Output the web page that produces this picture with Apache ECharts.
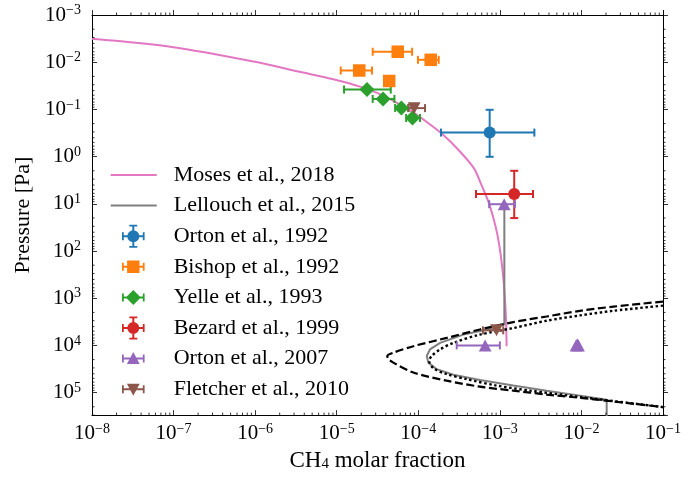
<!DOCTYPE html>
<html>
<head>
<meta charset="utf-8">
<script src="https://cdn.jsdelivr.net/npm/echarts@6/dist/echarts.min.js"></script>
<style>
html, body { margin: 0; padding: 0; background: #fff; }
#chart { width: 697px; height: 477px; }
</style>
</head>
<body>
<div id="chart"></div>
<script>
// model profiles (CH4 molar fraction vs pressure in Pa)
var mosesX = [1e-8, 1e-7, 1e-6, 3.5e-6, 9.1e-6, 1.93e-5, 3.7e-5, 7.9e-5, 1.27e-4, 2.03e-4, 3.24e-4, 4.8e-4, 5.7e-4, 7.2e-4, 8.3e-4, 9.3e-4, 1.02e-3, 1.1e-3, 1.156e-3, 1.19e-3, 1.21e-3];
var mosesP = [3.2e-3, 4.8e-3, 9.8e-3, 1.6e-2, 2.3e-2, 3.3e-2, 5.1e-2, 0.105, 0.185, 0.35, 0.78, 1.76, 3.35, 8.8, 19.6, 44, 115, 355, 1090, 2860, 10400];

var lellX = [1.135e-3, 1.135e-3, 7.6e-4, 3.56e-4, 1.85e-4, 1.39e-4, 1.27e-4, 1.33e-4, 1.68e-4, 2.69e-4, 5.7e-4, 1.46e-3, 3.75e-3, 9.6e-3, 2.04e-2, 2.04e-2];
var lellP = [10, 3640, 4500, 5900, 8850, 1.22e4, 1.68e4, 2.32e4, 3.19e4, 4.2e4, 5.4e4, 7.1e4, 9.1e4, 1.16e5, 1.42e5, 1e6];

// saturation curves (no legend entry)
var satDashX = [0.1, 2.46e-2, 9.6e-3, 3.75e-3, 1.46e-3, 5.7e-4, 2.23e-4, 8.7e-5, 4.94e-5, 4.17e-5, 4.3e-5, 4.94e-5, 8.7e-5, 2.23e-4, 5.7e-4, 1.46e-3, 3.75e-3, 9.6e-3, 2.46e-2, 0.1];
var satDashP = [1180, 1510, 1850, 2440, 3210, 4600, 6950, 1.04e4, 1.43e4, 1.68e4, 1.95e4, 2.32e4, 3.76e4, 5.6e4, 7.5e4, 9.1e4, 1.1e5, 1.29e5, 1.54e5, 2.03e5];
var satDotX = [0.1, 2.46e-2, 9.6e-3, 3.75e-3, 1.46e-3, 5.7e-4, 2.69e-4, 1.85e-4, 1.46e-4, 1.36e-4, 1.53e-4, 2.23e-4, 3.93e-4, 9.1e-4, 2.35e-3, 9.6e-3, 0.1];
var satDotP = [1440, 1850, 2320, 3000, 4290, 5900, 8850, 1.22e4, 1.68e4, 2.14e4, 3.04e4, 4.06e4, 5.2e4, 7.1e4, 9.1e4, 1.24e5, 2.03e5];

// observations: value, pressure, x error range, pressure error range
var orton92X = [7.5e-4];
var orton92P = [0.31];
var orton92Xerr = [[1.9e-4, 2.65e-3]];
var orton92Perr = [[0.102, 1.01]];

var bishopX = [5.6e-5, 1.42e-4, 1.89e-5, 4.4e-5];
var bishopP = [6.0e-3, 8.9e-3, 1.5e-2, 2.5e-2];
var bishopXerr = [[2.76e-5, 8.4e-5], [9.9e-5, 1.78e-4], [1.12e-5, 2.71e-5], null];

var yelleX = [2.35e-5, 3.7e-5, 6.2e-5, 8.5e-5];
var yelleP = [3.8e-2, 6.0e-2, 9.3e-2, 0.152];
var yelleXerr = [[1.23e-5, 4.6e-5], [2.76e-5, 5.1e-5], [5.2e-5, 7.55e-5], [7.1e-5, 1.05e-4]];

var bezardX = [1.5e-3];
var bezardP = [6.2];
var bezardXerr = [[5.1e-4, 2.55e-3]];
var bezardPerr = [[2.0, 20.1]];

var orton07X = [1.13e-3, 6.6e-4, 8.6e-3, 8.9e-3, 9.2e-3];
var orton07P = [10.2, 1e4, 1e4, 9.5e3, 1e4];
var orton07Xerr = [[7.4e-4, 1.53e-3], [2.96e-4, 1.0e-3], null, null, null];

var fletcherX = [8.9e-5, 9.1e-4];
var fletcherP = [0.094, 4.8e3];
var fletcherXerr = [[7.55e-5, 1.21e-4], [6.2e-4, 1.1e-3]];

// axis tick exponents
var xExp = [-8, -7, -6, -5, -4, -3, -2, -1];
var pExp = [-3, -2, -1, 0, 1, 2, 3, 4, 5];

var FONT = 'Liberation Serif';
var X_MIN = 1e-8, X_MAX = 1e-1, P_MIN = 1e-3, P_MAX = 3e5;

var chart = echarts.init(document.getElementById('chart'));

function decLabel(v) {
  var e = Math.round(Math.log10(v));
  return '{b|10}{s|' + (e < 0 ? '\u2212' + (-e) : e) + '}';
}
var labelRich = {
  b: { fontSize: 21, lineHeight: 23, fontFamily: FONT, color: '#000' },
  s: { fontSize: 14, lineHeight: 14, fontFamily: FONT, color: '#000', verticalAlign: 'top' }
};

// legend icons, all in a 58x23 box
var CX = 22.6, CY = 11.5;
function rect(x, y, w, h) {
  return 'M' + x + ',' + y + 'L' + (x + w) + ',' + y + 'L' + (x + w) + ',' + (y + h) + 'L' + x + ',' + (y + h) + 'Z';
}
var frame = 'M0,0L0.01,0Z M58,23L57.99,23Z ';
var xbar = rect(CX - 11.3, CY - 1, 22.6, 2) + rect(CX - 11.3, CY - 4, 1.8, 8) + rect(CX + 9.5, CY - 4, 1.8, 8);
var ybar = rect(CX - 1, 0, 2, 23) + rect(CX - 4, 0, 8, 1.8) + rect(CX - 4, 21.2, 8, 1.8);
function circ(r) {
  return 'M' + (CX - r) + ',' + CY + 'A' + r + ',' + r + ',0,1,1,' + (CX + r) + ',' + CY +
    'A' + r + ',' + r + ',0,1,1,' + (CX - r) + ',' + CY + 'Z';
}
var sq = rect(CX - 6.2, CY - 6.2, 12.4, 12.4);
var dia = 'M' + CX + ',' + (CY - 7.5) + 'L' + (CX + 7.5) + ',' + CY + 'L' + CX + ',' + (CY + 7.5) + 'L' + (CX - 7.5) + ',' + CY + 'Z';
var triUp = 'M' + CX + ',' + (CY - 6.5) + 'L' + (CX + 6.4) + ',' + (CY + 5.5) + 'L' + (CX - 6.4) + ',' + (CY + 5.5) + 'Z';
var triDn = 'M' + (CX - 6.4) + ',' + (CY - 5.5) + 'L' + (CX + 6.4) + ',' + (CY - 5.5) + 'L' + CX + ',' + (CY + 6.5) + 'Z';
var lineIcon = 'path://' + frame + rect(0, 10.5, 46, 2);

function lineSeries(name, xs, ps, color, dash, width, smooth) {
  return {
    name: name, type: 'line', xAxisIndex: 0, yAxisIndex: 0,
    data: xs.map(function (x, i) { return [x, ps[i]]; }),
    symbol: 'none', showSymbol: false, smooth: smooth,
    lineStyle: { color: color, width: width, type: dash },
    itemStyle: { color: color },
    silent: true, z: 2
  };
}

function renderErr(params, api) {
  var x = api.value(0), p = api.value(1);
  var xlo = api.value(2), xhi = api.value(3), plo = api.value(4), phi = api.value(5);
  var style = { stroke: api.visual('color'), lineWidth: 2 };
  var cap = 4;
  var kids = [];
  function seg(x1, y1, x2, y2) {
    kids.push({ type: 'line', shape: { x1: x1, y1: y1, x2: x2, y2: y2 }, style: style });
  }
  if (isFinite(xlo) && xlo > 0) {
    var a = api.coord([xlo, p]), b = api.coord([xhi, p]);
    seg(a[0], a[1], b[0], b[1]);
    seg(a[0], a[1] - cap, a[0], a[1] + cap);
    seg(b[0], b[1] - cap, b[0], b[1] + cap);
  }
  if (isFinite(plo) && plo > 0) {
    var c = api.coord([x, plo]), d = api.coord([x, phi]);
    seg(c[0], c[1], d[0], d[1]);
    seg(c[0] - cap, c[1], c[0] + cap, c[1]);
    seg(d[0] - cap, d[1], d[0] + cap, d[1]);
  }
  return { type: 'group', children: kids };
}

function obsSeries(name, color, symbol, size, rotate, xs, ps, xerr, perr) {
  var errData = xs.map(function (x, i) {
    var xe = xerr && xerr[i], pe = perr && perr[i];
    return [x, ps[i], xe ? xe[0] : NaN, xe ? xe[1] : NaN, pe ? pe[0] : NaN, pe ? pe[1] : NaN];
  });
  return [{
    name: name, type: 'custom', xAxisIndex: 0, yAxisIndex: 0,
    renderItem: renderErr, data: errData, encode: { x: 0, y: 1 },
    itemStyle: { color: color }, silent: true, z: 4
  }, {
    name: name, type: 'scatter', xAxisIndex: 0, yAxisIndex: 0,
    data: xs.map(function (x, i) { return [x, ps[i]]; }),
    symbol: symbol, symbolSize: size, symbolRotate: rotate,
    itemStyle: { color: color, opacity: 1 }, silent: true, z: 5
  }];
}

// minor ticks 2..9 per decade
var minorData = [];
xExp.slice(0, -1).forEach(function (e) {
  for (var m = 2; m <= 9; m++) minorData.push([m * Math.pow(10, e), 1, 0]);
});
pExp.forEach(function (e) {
  for (var m = 2; m <= 9; m++) {
    var v = m * Math.pow(10, e);
    if (v <= P_MAX * 1.001) minorData.push([1e-4, v, 1]);
  }
});
function renderMinor(params, api) {
  var cs = params.coordSys;
  var st = { stroke: '#000', lineWidth: 0.8 };
  var L = 2.5;
  var pt = api.coord([api.value(0), api.value(1)]);
  if (api.value(2) === 0) {
    var px = pt[0], yb = cs.y + cs.height, yt = cs.y;
    return { type: 'group', children: [
      { type: 'line', shape: { x1: px, y1: yb, x2: px, y2: yb - L }, style: st },
      { type: 'line', shape: { x1: px, y1: yt, x2: px, y2: yt - L }, style: st }
    ] };
  }
  var py = pt[1], xl = cs.x, xr = cs.x + cs.width;
  return { type: 'group', children: [
    { type: 'line', shape: { x1: xl, y1: py, x2: xl + L, y2: py }, style: st },
    { type: 'line', shape: { x1: xr, y1: py, x2: xr + L, y2: py }, style: st }
  ] };
}

var series = [
  lineSeries('Moses et al., 2018', mosesX, mosesP, '#e377c2', 'solid', 2, 0.3),
  lineSeries('Lellouch et al., 2015', lellX, lellP, '#7f7f7f', 'solid', 2, false),
  lineSeries('sat dashed', satDashX, satDashP, '#000', [8, 3.5], 2.2, 0.3),
  lineSeries('sat dotted', satDotX, satDotP, '#000', [2.5, 2.6], 2.4, 0.3)
];
series = series.concat(
  obsSeries('Orton et al., 1992', '#1f77b4', 'circle', 12, 0, orton92X, orton92P, orton92Xerr, orton92Perr),
  obsSeries('Bishop et al., 1992', '#ff7f0e', 'rect', 12.5, 0, bishopX, bishopP, bishopXerr, null),
  obsSeries('Yelle et al., 1993', '#2ca02c', 'diamond', 15, 0, yelleX, yelleP, yelleXerr, null),
  obsSeries('Bezard et al., 1999', '#d62728', 'circle', 12, 0, bezardX, bezardP, bezardXerr, bezardPerr),
  obsSeries('Orton et al., 2007', '#9467bd', 'triangle', [12.8, 12], 0, orton07X, orton07P, orton07Xerr, null),
  obsSeries('Fletcher et al., 2010', '#8c564b', 'triangle', [12.8, 12], 180, fletcherX, fletcherP, fletcherXerr, null)
);
series.push({
  name: 'minor ticks', type: 'custom', xAxisIndex: 0, yAxisIndex: 0,
  renderItem: renderMinor, data: minorData, encode: { x: 0, y: 1 },
  silent: true, z: 10
});

var axisLine = { show: true, lineStyle: { color: '#000', width: 1 } };
var tickStyle = { color: '#000', width: 0.8 };

var option = {
  animation: false,
  backgroundColor: '#fff',
  grid: { left: 92, right: 34, top: 15, bottom: 57, containLabel: false },
  legend: {
    orient: 'vertical', left: 110.7, top: 163.5, padding: 0,
    itemWidth: 58, itemHeight: 23, itemGap: 7.6,
    selectedMode: false,
    itemStyle: { borderWidth: 0 },
    textStyle: { fontFamily: FONT, fontSize: 22, lineHeight: 23, color: '#000' },
    data: [
      { name: 'Moses et al., 2018', icon: lineIcon },
      { name: 'Lellouch et al., 2015', icon: lineIcon },
      { name: 'Orton et al., 1992', icon: 'path://' + frame + xbar + ybar + circ(6) },
      { name: 'Bishop et al., 1992', icon: 'path://' + frame + xbar + sq },
      { name: 'Yelle et al., 1993', icon: 'path://' + frame + xbar + dia },
      { name: 'Bezard et al., 1999', icon: 'path://' + frame + xbar + ybar + circ(6) },
      { name: 'Orton et al., 2007', icon: 'path://' + frame + xbar + triUp },
      { name: 'Fletcher et al., 2010', icon: 'path://' + frame + xbar + triDn }
    ]
  },
  xAxis: [{
    type: 'log', logBase: 10, min: X_MIN, max: X_MAX, position: 'bottom',
    name: '{a|CH}{c|4}{a| molar fraction}', nameLocation: 'middle', nameGap: 24,
    nameTextStyle: { rich: {
      a: { fontFamily: FONT, fontSize: 23, lineHeight: 23, color: '#000' },
      c: { fontFamily: FONT, fontSize: 15, lineHeight: 15, color: '#000', verticalAlign: 'bottom' }
    } },
    axisLine: axisLine,
    axisTick: { show: true, inside: true, length: 5, lineStyle: tickStyle },
    minorTick: { show: false },
    splitLine: { show: false },
    axisLabel: { margin: 7, formatter: decLabel, rich: labelRich }
  }, {
    type: 'log', logBase: 10, min: X_MIN, max: X_MAX, position: 'top',
    axisLine: axisLine,
    axisTick: { show: true, inside: false, length: 5, lineStyle: tickStyle },
    splitLine: { show: false },
    axisLabel: { show: false }
  }],
  yAxis: [{
    type: 'log', logBase: 10, min: P_MIN, max: P_MAX, inverse: true, position: 'left',
    name: 'Pressure [Pa]', nameLocation: 'middle', nameGap: 57,
    nameTextStyle: { fontFamily: FONT, fontSize: 22, color: '#000' },
    axisLine: axisLine,
    axisTick: { show: true, inside: true, length: 5, lineStyle: tickStyle },
    minorTick: { show: false },
    splitLine: { show: false },
    axisLabel: { margin: 11, formatter: decLabel, rich: labelRich, showMaxLabel: false }
  }, {
    type: 'log', logBase: 10, min: P_MIN, max: P_MAX, inverse: true, position: 'right',
    axisLine: axisLine,
    axisTick: { show: true, inside: false, length: 5, lineStyle: tickStyle },
    splitLine: { show: false },
    axisLabel: { show: false }
  }],
  series: series
};

chart.setOption(option);
</script>
</body>
</html>
